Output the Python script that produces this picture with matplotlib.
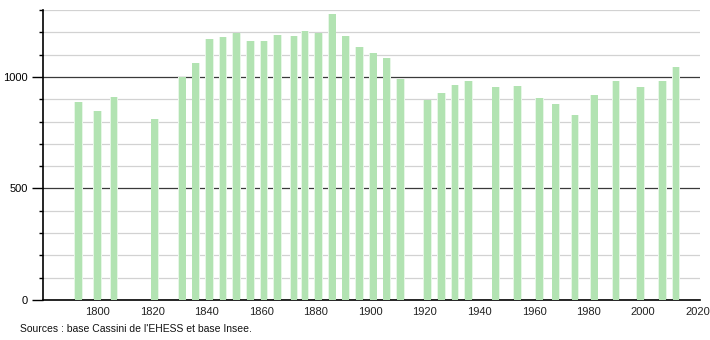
import matplotlib
matplotlib.use("Agg")
import matplotlib.pyplot as plt
from matplotlib.ticker import MultipleLocator

plt.rcParams["font.family"] = ["Liberation Sans", "DejaVu Sans"]

# -----------------------------
# Data (census years / population)
# -----------------------------
years = [1793, 1800, 1806, 1821, 1831, 1836, 1841, 1846, 1851, 1856,
         1861, 1866, 1872, 1876, 1881, 1886, 1891, 1896, 1901, 1906,
         1911, 1921, 1926, 1931, 1936, 1946, 1954, 1962, 1968, 1975,
         1982, 1990, 1999, 2007, 2012]
population = [889, 849, 908, 813, 1000, 1063, 1172, 1177, 1197, 1163,
              1163, 1190, 1183, 1208, 1197, 1280, 1185, 1135, 1105, 1087,
              992, 898, 928, 965, 983, 955, 961, 906, 880, 828,
              920, 983, 955, 983, 1043]
x_ticks = list(range(1800, 2021, 20))
y_ticks = [0, 500, 1000]
source = "Sources : base Cassini de l'EHESS et base Insee."

# -----------------------------
# Figure
# -----------------------------
fig = plt.figure(figsize=(7.1, 3.4), dpi=100)
ax = fig.add_axes([0.0606, 0.1176, 0.926, 0.853])

# horizontal grid
for v in range(100, 1301, 100):
    if v % 500 == 0:
        ax.axhline(v, color="#3a3a3a", lw=0.9, zorder=1)
    else:
        ax.axhline(v, color="#d2d2d2", lw=0.9, zorder=1)

# bars with a soft edge
ax.bar(years, population, width=3.1, color="#e6f6e6", zorder=2)
ax.bar(years, population, width=2.5, color="#b2e3b2", zorder=3)

ax.set_xlim(1780, 2021)
ax.set_ylim(0, 1300)
ax.set_xticks(x_ticks)
ax.set_yticks(y_ticks)
ax.yaxis.set_minor_locator(MultipleLocator(100))
ax.tick_params(axis="x", length=0, labelsize=8, pad=5, colors="#222222")
ax.tick_params(axis="y", which="major", length=8, width=1, labelsize=8, pad=3)
ax.tick_params(axis="y", which="minor", length=3, width=1)

for s in ["top", "right"]:
    ax.spines[s].set_visible(False)
ax.spines["left"].set_linewidth(1.2)
ax.spines["bottom"].set_linewidth(1.2)

fig.text(0.028, 0.025, source, fontsize=7.5, color="#111111")

fig.savefig("out.png", dpi=100)
